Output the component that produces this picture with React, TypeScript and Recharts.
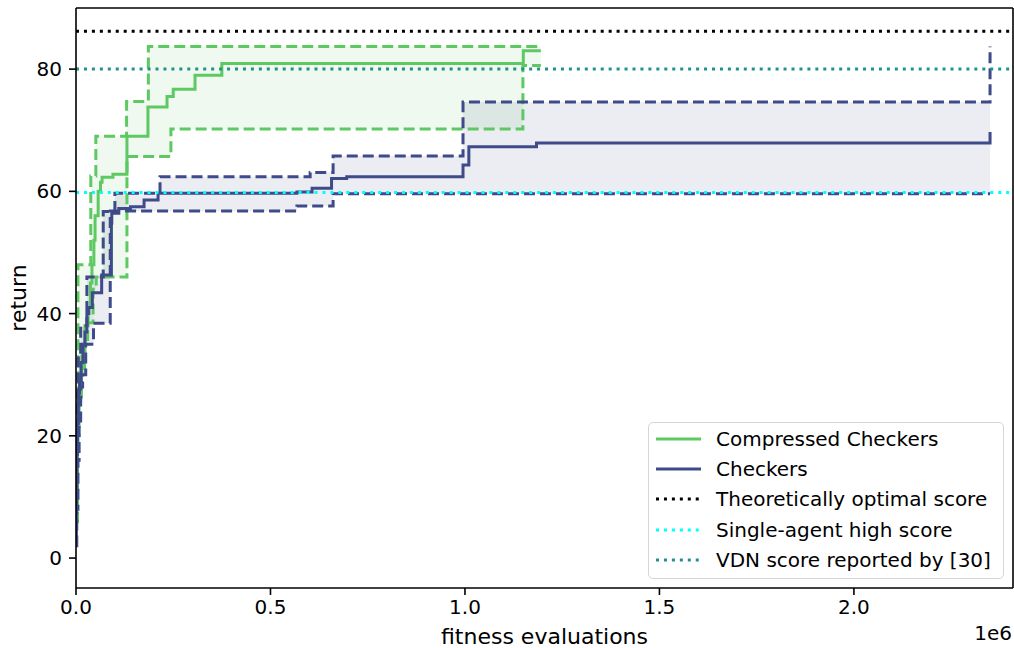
import React from "react";
import {
  Area,
  ComposedChart,
  Label,
  Legend,
  Line,
  ReferenceLine,
  XAxis,
  YAxis,
} from "recharts";

// step points: [fitness evaluations, return]
const COMPRESSED_MEDIAN: [number, number][] = [
  [0, 10], [2000, 18], [5000, 26], [9000, 30], [15000, 33], [23000, 38], [31000, 41],
  [37000, 45], [41000, 48], [46000, 52], [49000, 56], [57000, 60], [63000, 61.5],
  [67000, 62.3], [95000, 62.8], [131000, 69.0], [185000, 73.8], [234000, 75.5],
  [250000, 76.7], [306000, 79.0], [375000, 80.9], [1150000, 83.0], [1195000, 83.0],
];
const COMPRESSED_UPPER: [number, number][] = [
  [0, 16], [3000, 30], [5000, 48], [38000, 62.5], [51000, 69.0], [130000, 74.7],
  [186000, 83.7], [1195000, 83.7],
];
const COMPRESSED_LOWER: [number, number][] = [
  [0, 6], [4000, 20], [8000, 26], [14000, 30], [22000, 35], [30000, 38.5],
  [44000, 44], [52000, 46], [131000, 65.7], [244000, 70.2],
  [1149000, 80.6], [1195000, 80.6],
];

const CHECKERS_MEDIAN: [number, number][] = [
  [0, 3], [1000, 10], [2000, 17], [4000, 22], [6000, 27], [9000, 29], [13000, 32],
  [18000, 35], [23000, 37], [28000, 40], [33000, 41], [42000, 43.4], [66000, 46.3],
  [91000, 54.8], [92000, 56.4], [110000, 57.2], [140000, 57.5], [175000, 58.6],
  [211000, 59.7], [568000, 59.9], [607000, 60.5], [657000, 62.1], [696000, 62.4],
  [995000, 64.3], [1010000, 67.3], [1184000, 67.9], [2350000, 69.7],
];
const CHECKERS_UPPER: [number, number][] = [
  [0, 8], [1500, 18], [3000, 27], [6000, 33], [12000, 38], [28000, 46], [70000, 56.7],
  [100000, 59.7], [216000, 62.4], [602000, 63.1], [661000, 65.8], [995000, 74.6],
  [2350000, 83.7],
];
const CHECKERS_LOWER: [number, number][] = [
  [0, 2], [2000, 8], [5000, 16], [8000, 22], [12000, 28], [17000, 30], [25000, 35],
  [45000, 38.4], [88000, 56.8], [568000, 57.6], [661000, 59.6], [2350000, 59.6],
];

const OPTIMAL_SCORE = 86.2;
const SINGLE_AGENT_SCORE = 59.8;
const VDN_SCORE = 80;

const X_DOMAIN: [number, number] = [0, 2409000];
const Y_DOMAIN: [number, number] = [-4.9, 90];
const X_TICKS = [0, 500000, 1000000, 1500000, 2000000];
const Y_TICKS = [0, 20, 40, 60, 80];

const GREEN = "#5ec962";
const BLUE = "#3e4a89";
const TEAL = "#21918c";
const CYAN = "#00ffff";
const FONT = "'DejaVu Sans', sans-serif";

function stepValue(points: [number, number][], x: number) {
  if (x > points[points.length - 1][0]) return null;
  let v: number | null = null;
  for (const [px, py] of points) {
    if (px <= x) v = py;
    else break;
  }
  return v;
}

const allX = Array.from(
  new Set(
    [COMPRESSED_MEDIAN, COMPRESSED_UPPER, COMPRESSED_LOWER, CHECKERS_MEDIAN, CHECKERS_UPPER, CHECKERS_LOWER]
      .flat()
      .map((p) => p[0])
  )
).sort((a, b) => a - b);

const table = allX.map((x) => {
  const ccLo = stepValue(COMPRESSED_LOWER, x);
  const ccHi = stepValue(COMPRESSED_UPPER, x);
  const chLo = stepValue(CHECKERS_LOWER, x);
  const chHi = stepValue(CHECKERS_UPPER, x);
  return {
    x,
    ccMed: stepValue(COMPRESSED_MEDIAN, x),
    ccLo,
    ccHi,
    ccBand: ccLo != null && ccHi != null ? [ccLo, ccHi] : null,
    chMed: stepValue(CHECKERS_MEDIAN, x),
    chLo,
    chHi,
    chBand: chLo != null && chHi != null ? [chLo, chHi] : null,
  };
});

const legendItems = [
  { label: "Compressed Checkers", color: GREEN, dash: undefined },
  { label: "Checkers", color: BLUE, dash: undefined },
  { label: "Theoretically optimal score", color: "#000", dash: "3 4.95" },
  { label: "Single-agent high score", color: CYAN, dash: "3 4.95" },
  { label: "VDN score reported by [30]", color: TEAL, dash: "3 4.95" },
];

function LegendBox() {
  return (
    <div
      style={{
        boxSizing: "border-box",
        width: 356,
        height: 157,
        border: "1.5px solid #d6d6d6",
        borderRadius: 5,
        background: "rgba(255,255,255,0.85)",
        paddingTop: 1,
        fontFamily: FONT,
        fontSize: 20,
        color: "#000",
      }}
    >
      {legendItems.map((it) => (
        <div key={it.label} style={{ display: "flex", alignItems: "center", height: 30.2 }}>
          <svg width={67} height={10} style={{ flex: "none" }}>
            <line x1={7} x2={52} y1={5} y2={5} stroke={it.color} strokeWidth={3} strokeDasharray={it.dash} />
          </svg>
          <span style={{ whiteSpace: "nowrap" }}>{it.label}</span>
        </div>
      ))}
    </div>
  );
}

export default function App() {
  const tickStyle = { fill: "#000", fontSize: 20, fontFamily: FONT };
  const labelStyle = { fill: "#000", fontSize: 22, fontFamily: FONT };
  return (
    <div style={{ position: "absolute", left: 0, top: 0, width: 1014, height: 648, background: "#fff" }}>
      <ComposedChart
        width={1014}
        height={648}
        data={table}
        margin={{ top: 8, right: 1, left: 0, bottom: 0 }}
      >
        <XAxis
          dataKey="x"
          type="number"
          domain={X_DOMAIN}
          ticks={X_TICKS}
          tickFormatter={(v: number) => (v / 1e6).toFixed(1)}
          height={60}
          tickSize={7}
          tickMargin={5}
          stroke="#000"
          strokeWidth={1.6}
          tick={tickStyle}
          allowDataOverflow
        >
          <Label value="fitness evaluations" position="insideBottom" offset={4} style={labelStyle} />
          <Label
            content={() => (
              <text x={1012} y={640} textAnchor="end" style={tickStyle}>
                1e6
              </text>
            )}
          />
        </XAxis>
        <YAxis
          type="number"
          domain={Y_DOMAIN}
          ticks={Y_TICKS}
          width={76}
          tickSize={7}
          tickMargin={7}
          stroke="#000"
          strokeWidth={1.6}
          tick={tickStyle}
          allowDataOverflow
        >
          <Label
            content={() => (
              <text
                x={18}
                y={298}
                transform="rotate(-90 18 298)"
                textAnchor="middle"
                dominantBaseline="central"
                style={labelStyle}
              >
                return
              </text>
            )}
          />
        </YAxis>

        <Area dataKey="ccBand" type="stepAfter" stroke="none" fill={GREEN} fillOpacity={0.1} isAnimationActive={false} />
        <Area dataKey="chBand" type="stepAfter" stroke="none" fill={BLUE} fillOpacity={0.1} isAnimationActive={false} />

        <Line dataKey="ccLo" type="stepAfter" stroke={GREEN} strokeWidth={3} strokeDasharray="11 5" dot={false} isAnimationActive={false} />
        <Line dataKey="ccHi" type="stepAfter" stroke={GREEN} strokeWidth={3} strokeDasharray="11 5" dot={false} isAnimationActive={false} />
        <Line dataKey="ccMed" type="stepAfter" stroke={GREEN} strokeWidth={3} dot={false} isAnimationActive={false} />

        <Line dataKey="chLo" type="stepAfter" stroke={BLUE} strokeWidth={3} strokeDasharray="11 5" dot={false} isAnimationActive={false} />
        <Line dataKey="chHi" type="stepAfter" stroke={BLUE} strokeWidth={3} strokeDasharray="11 5" dot={false} isAnimationActive={false} />
        <Line dataKey="chMed" type="stepAfter" stroke={BLUE} strokeWidth={3} dot={false} isAnimationActive={false} />

        <ReferenceLine y={OPTIMAL_SCORE} stroke="#000" strokeWidth={3} strokeDasharray="3 4.95" />
        <ReferenceLine y={SINGLE_AGENT_SCORE} stroke={CYAN} strokeWidth={3} strokeDasharray="3 4.95" />
        <ReferenceLine y={VDN_SCORE} stroke={TEAL} strokeWidth={3} strokeDasharray="3 4.95" />

        {/* top and right spines */}
        <ReferenceLine y={Y_DOMAIN[1]} stroke="#000" strokeWidth={1.6} ifOverflow="visible" />
        <ReferenceLine x={X_DOMAIN[1]} stroke="#000" strokeWidth={1.6} ifOverflow="visible" />

        <Legend
          layout="horizontal"
          verticalAlign="middle"
          content={() => <LegendBox />}
          wrapperStyle={{ left: 648, top: 422, width: 356, height: 157 }}
        />
      </ComposedChart>
    </div>
  );
}
